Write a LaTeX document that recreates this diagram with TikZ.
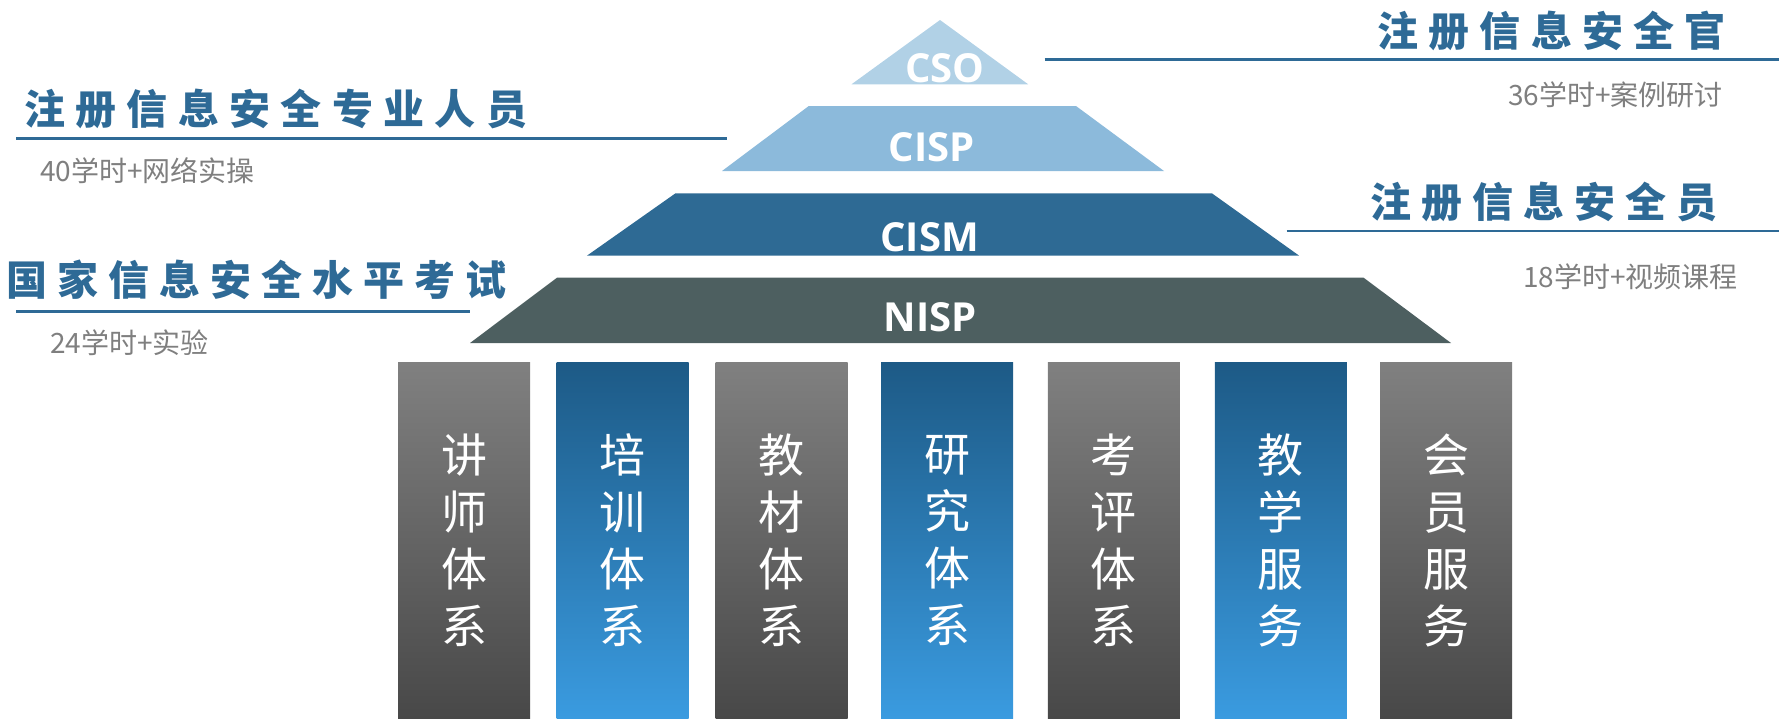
\documentclass[tikz,border=0pt]{standalone}
\usepackage{fontspec}
\newfontfamily\cjk{Noto Sans CJK SC}
\newfontfamily\lat{Open Sans}
\definecolor{ttl}{HTML}{2E6A96}
\definecolor{subc}{HTML}{7F7F7F}
\definecolor{lcso}{HTML}{B1D1E6}
\definecolor{lcisp}{HTML}{8CBADB}
\definecolor{lcism}{HTML}{2E6A94}
\definecolor{lnisp}{HTML}{4D5F60}
\definecolor{gtop}{HTML}{808080}
\definecolor{gbot}{HTML}{484848}
\definecolor{btop}{HTML}{1D5A86}
\definecolor{bbot}{HTML}{3A9BE0}
\makeatletter
\newcommand\spreadtext[2]{\@tfor\spch:=#2\do{\makebox[#1]{\spch}}}
\makeatother
\tikzset{
  titletext/.style={inner sep=0pt, text=ttl, font=\cjk\bfseries\fontsize{41}{41}\selectfont},
  subtext/.style={inner sep=0pt, anchor=west, text=subc, font=\cjk\fontsize{28}{28}\selectfont},
  layertext/.style={inner sep=0pt, text=white, font=\lat\bfseries\fontsize{40}{40}\selectfont},
  rule/.style={draw=ttl, line width=2.6pt},
  pillar/.style={rectangle, inner sep=0pt, minimum width=132pt, minimum height=356pt,
     align=center, text=white, font=\cjk\fontsize{46}{57}\selectfont},
  graypillar/.style={pillar, top color=gtop, bottom color=gbot},
  bluepillar/.style={pillar, top color=btop, bottom color=bbot}
}
\begin{document}
\begin{tikzpicture}[x=1pt,y=-1pt]
\useasboundingbox (0,0) rectangle (1779,718);
% pyramid layers
\fill[lcso] (940,20) -- (1028.2,84.3) -- (851.5,84.3) -- cycle;
\fill[lcisp] (808.8,106) -- (1076,106) -- (1164,171) -- (722,171) -- cycle;
\fill[lcism] (675.5,193.3) -- (1211.9,193.3) -- (1299.2,255.7) -- (586.9,255.7) -- cycle;
\fill[lnisp] (557,277.7) -- (1363.6,277.7) -- (1451,343) -- (470,343) -- cycle;
\node[layertext] (cso) at (945,68) {CSO};
\node[layertext] (cisp) at (931.5,147) {CISP};
\node[layertext] (cism) at (929.6,237.5) {CISM};
\node[layertext] (nisp) at (930,317.5) {NISP};
% rules
\coordinate (r1a) at (1044.7,59.3); \coordinate (r1b) at (1779,59.3);
\coordinate (r2a) at (1286.6,231); \coordinate (r2b) at (1779,231);
\coordinate (r3a) at (16,138.3); \coordinate (r3b) at (727,138.3);
\coordinate (r4a) at (16,311.7); \coordinate (r4b) at (469.6,311.7);
\draw[rule] (r1a) -- (r1b);
\draw[rule] (r2a) -- (r2b);
\draw[rule] (r3a) -- (r3b);
\draw[rule] (r4a) -- (r4b);
% titles
\node[titletext] (t1) at (1551.5,30.5) {\spreadtext{51.2pt}{注册信息安全官}};
\node[titletext] (t2) at (1543.8,202.2) {\spreadtext{51.1pt}{注册信息安全员}};
\node[titletext] (t3) at (275.7,108.5) {\spreadtext{51.3pt}{注册信息安全专业人员}};
\node[titletext] (t4) at (256.5,280) {\spreadtext{51pt}{国家信息安全水平考试}};
% subtitles
\node[subtext] (s1) at (1508,94.5) {36学时+案例研讨};
\node[subtext] (s2) at (1523,276.5) {18学时+视频课程};
\node[subtext] (s3) at (40,170.5) {40学时+网络实操};
\node[subtext] (s4) at (50,343) {24学时+实验};
% pillars
\node[graypillar] (p1) at (464,540.2) {讲\\师\\体\\系};
\node[bluepillar] (p2) at (622.7,540.2) {培\\训\\体\\系};
\node[graypillar] (p3) at (781.5,540.2) {教\\材\\体\\系};
\node[bluepillar] (p4) at (947.2,540.2) {研\\究\\体\\系};
\node[graypillar] (p5) at (1113.8,540.2) {考\\评\\体\\系};
\node[bluepillar] (p6) at (1280.9,540.2) {教\\学\\服\\务};
\node[graypillar] (p7) at (1446.2,540.2) {会\\员\\服\\务};
\end{tikzpicture}
\end{document}
